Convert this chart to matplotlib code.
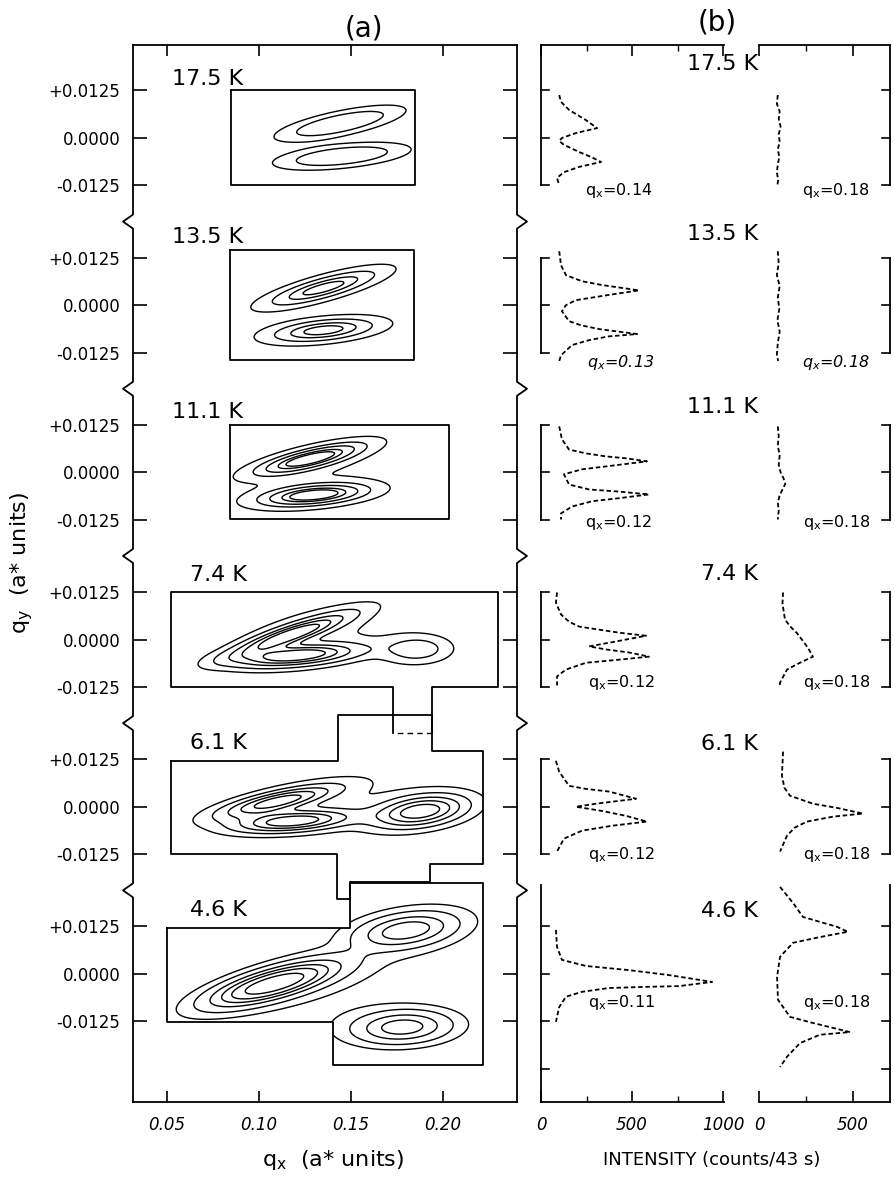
import numpy as np
import matplotlib
matplotlib.use('Agg')
import matplotlib.pyplot as plt
from matplotlib.patches import Polygon
from matplotlib.transforms import blended_transform_factory as btf

plt.rcParams['font.family'] = ['DejaVu Sans']
plt.rcParams['mathtext.default'] = 'regular'

# ---------------- data ----------------
temps = ['17.5 K', '13.5 K', '11.1 K', '7.4 K', '6.1 K', '4.6 K']
qx_ticks = [0.05, 0.10, 0.15, 0.20]
qx_ticklabels = ['0.05', '0.10', '0.15', '0.20']
qy_ticks = [0.0125, 0.0, -0.0125]
qy_ticklabels = ['+0.0125', '0.0000', '-0.0125']
int_ticks_left = [0, 500, 1000]
int_ticks_right = [0, 500]
qx_cut_left = ['0.14', '0.13', '0.12', '0.12', '0.12', '0.11']
qx_cut_right = ['0.18', '0.18', '0.18', '0.18', '0.18', '0.18']

# contour peak models per temperature: (qx0, qy0, slope, sigma_x, sigma_y, amplitude)
peaks_175 = [(0.144, 0.0038, 0.096, 0.020, 0.0019, 1.0),
             (0.145, -0.0048, 0.047, 0.021, 0.0018, 1.0)]
peaks_135 = [(0.135, 0.0045, 0.127, 0.022, 0.0021, 1.0),
             (0.135, -0.0066, 0.047, 0.021, 0.0021, 1.0)]
peaks_111 = [(0.128, 0.0036, 0.110, 0.021, 0.0019, 1.0),
             (0.130, -0.0060, 0.042, 0.021, 0.0019, 1.0),
             (0.130, -0.0010, 0.070, 0.030, 0.0060, 0.15)]
peaks_74 = [(0.117, 0.0012, 0.157, 0.019, 0.0016, 1.0),
            (0.120, -0.0042, 0.040, 0.020, 0.0016, 1.0),
            (0.186, -0.0026, 0.010, 0.012, 0.0024, 0.30),
            (0.128, 0.0010, 0.080, 0.035, 0.0070, 0.10)]
peaks_61 = [(0.110, 0.0014, 0.100, 0.020, 0.0017, 0.95),
            (0.118, -0.0038, 0.035, 0.020, 0.0017, 1.0),
            (0.188, -0.0012, 0.060, 0.016, 0.0026, 1.0),
            (0.140, 0.0010, 0.050, 0.045, 0.0070, 0.09)]
peaks_46 = [(0.108, -0.0026, 0.125, 0.022, 0.0026, 1.0),
            (0.180, 0.0115, 0.060, 0.017, 0.0028, 0.55),
            (0.178, -0.0140, 0.020, 0.017, 0.0028, 0.55),
            (0.150, 0.0000, 0.200, 0.050, 0.0100, 0.05)]
peaks_all = [peaks_175, peaks_135, peaks_111, peaks_74, peaks_61, peaks_46]
levels_all = [[0.2, 0.5],
              [0.2, 0.45, 0.7, 0.88],
              [0.18, 0.4, 0.6, 0.8, 0.92],
              [0.08, 0.2, 0.4, 0.6, 0.8],
              [0.1, 0.25, 0.45, 0.65, 0.85],
              [0.06, 0.15, 0.3, 0.45, 0.6, 0.8]]

# scanned regions (qx, local qy)
region_175 = [(0.085, 0.0125), (0.185, 0.0125), (0.185, -0.0125), (0.085, -0.0125)]
region_135 = [(0.084, 0.0145), (0.184, 0.0145), (0.184, -0.0145), (0.084, -0.0145)]
region_111 = [(0.084, 0.0124), (0.203, 0.0124), (0.203, -0.0124), (0.084, -0.0124)]
region_74 = [(0.052, 0.0125), (0.230, 0.0125), (0.230, -0.0126), (0.194, -0.0126),
             (0.194, -0.0245), (0.173, -0.0245), (0.173, -0.0126), (0.052, -0.0126)]
region_61 = [(0.052, 0.0121), (0.1429, 0.0121), (0.1429, 0.0242), (0.194, 0.0242),
             (0.194, 0.0147), (0.2217, 0.0147), (0.2217, -0.0150), (0.1929, -0.0150),
             (0.1929, -0.0197), (0.1495, -0.0197), (0.1495, -0.0242), (0.1424, -0.0242),
             (0.1424, -0.0124), (0.052, -0.0124)]
region_46 = [(0.050, 0.0121), (0.1495, 0.0121), (0.1495, 0.0239), (0.2217, 0.0239),
             (0.2217, -0.0239), (0.1402, -0.0239), (0.1402, -0.0126), (0.050, -0.0126)]
regions_all = [region_175, region_135, region_111, region_74, region_61, region_46]

# intensity profiles (local qy, counts)
p175L_qy = [0.0113, 0.0095, 0.0074, 0.0047, 0.0026, 0.0013, 0.0, -0.0008, -0.0018, -0.0037,
            -0.005, -0.0063, -0.0076, -0.009, -0.0105, -0.0124]
p175L_I = [100, 110, 154, 247, 308, 192, 115, 100, 126, 210, 275, 330, 210, 126, 88, 100]
p175R_qy = [0.0113, 0.009, 0.007, 0.005, 0.003, 0.001, -0.001, -0.003, -0.005, -0.007, -0.009,
            -0.011, -0.0124]
p175R_I = [100, 95, 110, 105, 115, 105, 110, 100, 108, 100, 95, 102, 98]
p135L_qy = [0.0142, 0.0105, 0.0079, 0.0063, 0.0053, 0.0039, 0.0026, 0.0013, 0.0, -0.0016,
            -0.0042, -0.0053, -0.0063, -0.0076, -0.0082, -0.0092, -0.0105, -0.0132, -0.0147]
p135L_I = [100, 110, 137, 225, 335, 538, 360, 190, 137, 115, 154, 220, 320, 528, 374, 264, 170,
           110, 100]
p135R_qy = [0.0142, 0.011, 0.008, 0.005, 0.002, -0.001, -0.004, -0.007, -0.010, -0.013, -0.0147]
p135R_I = [100, 105, 95, 110, 100, 108, 98, 110, 100, 95, 102]
p111L_qy = [0.0121, 0.0087, 0.006, 0.005, 0.0042, 0.0037, 0.0029, 0.0016, 0.0008, -0.0005,
            -0.0032, -0.0045, -0.005, -0.0058, -0.0068, -0.0076, -0.009, -0.0108, -0.0124]
p111L_I = [100, 115, 154, 247, 357, 467, 582, 363, 225, 126, 154, 264, 412, 593, 428, 280, 170,
           110, 110]
p111R_qy = [0.0121, 0.0095, 0.007, 0.0045, 0.002, 0.0, -0.0015, -0.003, -0.0045, -0.006, -0.008,
            -0.010, -0.0124]
p111R_I = [100, 105, 100, 110, 105, 115, 130, 140, 125, 110, 100, 105, 100]
p74L_qy = [0.0124, 0.0097, 0.0066, 0.0047, 0.0034, 0.0026, 0.0018, 0.001, -0.0005, -0.0018,
           -0.0026, -0.0034, -0.0045, -0.0053, -0.0061, -0.0079, -0.0097, -0.0121]
p74L_I = [88, 82, 110, 154, 210, 320, 430, 577, 412, 264, 357, 483, 593, 428, 247, 137, 88, 88]
p74R_qy = [0.0124, 0.0095, 0.0053, 0.0035, 0.0018, 0.0, -0.0018, -0.003, -0.0045, -0.0061,
           -0.0079, -0.0113, -0.0121]
p74R_I = [128, 125, 138, 165, 200, 228, 255, 270, 287, 218, 149, 112, 110]
p61L_qy = [0.0121, 0.0092, 0.0055, 0.0047, 0.004, 0.0021, 0.0008, 0.0, -0.0011, -0.0024,
           -0.0039, -0.005, -0.0063, -0.0084, -0.0118]
p61L_I = [82, 100, 154, 247, 374, 522, 302, 192, 335, 467, 582, 390, 225, 126, 88]
p61R_qy = [0.0145, 0.0082, 0.005, 0.0029, 0.0008, -0.0003, -0.0018, -0.0026, -0.0039, -0.0055,
           -0.0076, -0.0118]
p61R_I = [128, 122, 135, 165, 287, 415, 553, 394, 255, 190, 149, 112]
p46L_qy = [0.0116, 0.0071, 0.0037, 0.0021, 0.001, -0.0003, -0.0021, -0.0032, -0.0034, -0.0037,
           -0.0047, -0.006, -0.0087, -0.0126]
p46L_I = [82, 88, 115, 247, 484, 703, 940, 758, 577, 374, 225, 137, 100, 82]
p46R_qy = [0.0229, 0.0187, 0.015, 0.0124, 0.0111, 0.0097, 0.0082, 0.0045, -0.0008, -0.0068,
           -0.0113, -0.0129, -0.0153, -0.016, -0.0182, -0.0218, -0.0245]
p46R_I = [112, 181, 234, 415, 473, 324, 181, 112, 96, 101, 165, 287, 484, 324, 218, 149, 112]
profL = [(p175L_qy, p175L_I), (p135L_qy, p135L_I), (p111L_qy, p111L_I),
         (p74L_qy, p74L_I), (p61L_qy, p61L_I), (p46L_qy, p46L_I)]
profR = [(p175R_qy, p175R_I), (p135R_qy, p135R_I), (p111R_qy, p111R_I),
         (p74R_qy, p74R_I), (p61R_qy, p61R_I), (p46R_qy, p46R_I)]

# ---------------- layout ----------------
W, H = 894, 1179
fig = plt.figure(figsize=(W / 100, H / 100), dpi=100)
D = 0.044                    # stacking offset between temperatures
YLIM = (-0.2537, 0.02447)
LW = 1.3


def fx(px):
    return px / W


def fy(py):
    return 1 - py / H


AX_B, AX_H = 1 - 1102 / H, 1057 / H
ax = fig.add_axes([fx(133), AX_B, 384 / W, AX_H])
ax.set_xlim(0.0315, 0.2402)
ax.set_ylim(*YLIM)
for s in ['left', 'right']:
    ax.spines[s].set_visible(False)
for s in ['top', 'bottom']:
    ax.spines[s].set_linewidth(LW)
ax.set_xticks(qx_ticks)
ax.set_xticklabels(qx_ticklabels, fontsize=12, fontstyle='italic')
yt, yl = [], []
for i in range(6):
    for t, lab in zip(qy_ticks, qy_ticklabels):
        yt.append(t - i * D)
        yl.append(lab)
ax.set_yticks(yt)
ax.set_yticklabels(yl, fontsize=12)
ax.tick_params(axis='x', direction='in', top=True, bottom=True, length=8, width=1.2, pad=10)
ax.tick_params(axis='y', direction='in', left=True, right=True, length=10, width=1.2, pad=9)

# spines with break marks
tr = btf(ax.transAxes, ax.transData)
zw = 10 / 384
zh = 7 / 3800
for side, sgn in [(0.0, -1), (1.0, 1)]:
    xs, ys = [side], [YLIM[1]]
    for i in range(5):
        yb = -(i + 0.5) * D
        xs += [side, side + sgn * zw, side]
        ys += [yb + zh, yb, yb - zh]
    xs.append(side)
    ys.append(YLIM[0])
    ax.plot(xs, ys, color='k', lw=LW, transform=tr, clip_on=False)

# contour maps
gx = np.linspace(0.045, 0.235, 380)
gy = np.linspace(-0.027, 0.027, 271)
GX, GY = np.meshgrid(gx, gy)
for i in range(6):
    Z = np.zeros_like(GX)
    for (x0, y0, sl, sx, sy, a) in peaks_all[i]:
        Z += a * np.exp(-0.5 * ((GX - x0) / sx) ** 2
                        - 0.5 * ((GY - y0 - sl * (GX - x0)) / sy) ** 2)
    cs = ax.contour(GX, GY - i * D, Z, levels=levels_all[i], colors='k', linewidths=1.0)
    verts = np.array(regions_all[i]) - np.array([0, i * D])
    clip = Polygon(verts, closed=True, transform=ax.transData, fill=False, edgecolor='none')
    ax.add_patch(clip)
    cs.set_clip_path(clip)
    if i == 3:
        v = verts.tolist()
        solid = v[5:] + v[:5]
        ax.plot([p[0] for p in solid], [p[1] for p in solid], color='k', lw=LW)
        ax.plot([v[4][0], v[5][0]], [v[4][1], v[5][1]], color='k', lw=1.0, ls=(0, (4, 3)))
    else:
        closed = np.vstack([verts, verts[:1]])
        ax.plot(closed[:, 0], closed[:, 1], color='k', lw=LW)

# ---------------- panel (b) ----------------
axL = fig.add_axes([fx(541), AX_B, 183 / W, AX_H])
axR = fig.add_axes([fx(759), AX_B, 131 / W, AX_H])
axL.set_xlim(0, 1005)
axR.set_xlim(0, 697)
for a_, ticks, minor in [(axL, int_ticks_left, [250, 750]), (axR, int_ticks_right, [250])]:
    a_.set_ylim(*YLIM)
    for s in ['left', 'right']:
        a_.spines[s].set_visible(False)
    for s in ['top', 'bottom']:
        a_.spines[s].set_linewidth(LW)
    a_.set_xticks(ticks)
    a_.set_xticklabels([str(t) for t in ticks], fontsize=12, fontstyle='italic')
    a_.set_xticks(minor, minor=True)
    a_.tick_params(axis='x', which='major', direction='in', top=True, bottom=True,
                   length=8, width=1.2, pad=10)
    a_.tick_params(axis='x', which='minor', direction='in', top=True, bottom=True,
                   length=4, width=1.0)
    a_.set_yticks([])

# bracket spines
bt = []
for i in range(6):
    bt += [t - i * D for t in qy_ticks]
bt.append(-0.025 - 5 * D)
for a_, side, sgn in [(axL, 0.0, 1), (axR, 1.0, -1)]:
    trb = btf(a_.transAxes, a_.transData)
    tl = 8 / (183 if a_ is axL else 131)
    for i in range(6):
        top = YLIM[1] if i == 0 else (0.0234 if i == 5 else 0.0125) - i * D
        bot = YLIM[0] if i == 5 else -0.0125 - i * D
        a_.plot([side, side], [top, bot], color='k', lw=LW, transform=trb, clip_on=False)
    for y in bt:
        a_.plot([side, side + sgn * tl], [y, y], color='k', lw=1.2, transform=trb,
                clip_on=False)

for i in range(6):
    qyL, IL = profL[i]
    axL.plot(IL, np.array(qyL) - i * D, color='k', lw=1.3, ls=(0, (2.5, 1.5)))
    qyR, IR = profR[i]
    axR.plot(IR, np.array(qyR) - i * D, color='k', lw=1.3, ls=(0, (2.5, 1.5)))

# ---------------- texts ----------------
a_lab_x = [172, 172, 172, 190, 190, 190]
a_lab_y = [79, 237, 412, 575, 743, 910]
b_lab_y = [64, 234, 407, 574, 744, 911]
qL_pos = [(585, 190), (587, 363), (585, 523), (588, 683), (588, 855), (588, 1003)]
qR_pos = [(802, 190), (802, 363), (803, 523), (803, 683), (803, 855), (803, 1003)]
for i in range(6):
    fig.text(fx(a_lab_x[i]), fy(a_lab_y[i]), temps[i], fontsize=16, ha='left', va='center')
    fig.text(fx(758), fy(b_lab_y[i]), temps[i], fontsize=16, ha='right', va='center')
    style = 'italic' if i == 1 else 'normal'
    fig.text(fx(qL_pos[i][0]), fy(qL_pos[i][1]), 'q$_x$=' + qx_cut_left[i], fontsize=11.5,
             ha='left', va='center', fontstyle=style)
    fig.text(fx(qR_pos[i][0]), fy(qR_pos[i][1]), 'q$_x$=' + qx_cut_right[i], fontsize=11.5,
             ha='left', va='center', fontstyle=style)

fig.text(fx(364), fy(28), '(a)', fontsize=20, ha='center', va='center')
fig.text(fx(717), fy(22), '(b)', fontsize=20, ha='center', va='center')
fig.text(fx(333), fy(1160), 'q$_x$  (a* units)', fontsize=16, ha='center', va='center')
fig.text(fx(712), fy(1160), 'INTENSITY (counts/43 s)', fontsize=13, ha='center', va='center')
fig.text(fx(22), fy(563), 'q$_y$  (a* units)', fontsize=16, ha='center', va='center',
         rotation=90)

fig.savefig('out.png', dpi=100)
